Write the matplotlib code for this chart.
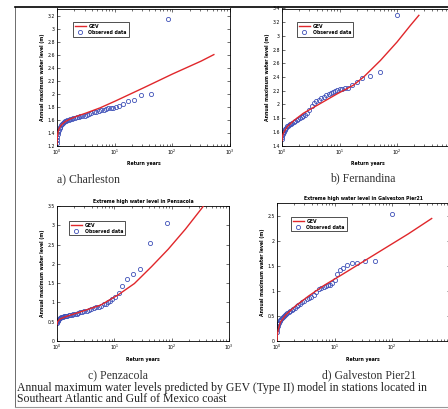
import matplotlib
matplotlib.use("Agg")
import matplotlib.pyplot as plt
from matplotlib.lines import Line2D

# ---------------- data ----------------
# a) Charleston
obs_T_a = [1.0, 1.01, 1.02, 1.04, 1.06, 1.08, 1.11, 1.14, 1.18, 1.22, 1.27, 1.32, 1.38, 1.45, 1.52,
           1.6, 1.7, 1.8, 1.92, 2.05, 2.2, 2.36, 2.55, 2.76, 3.0, 3.27, 3.6, 3.95, 4.35, 4.8, 5.3,
           5.9, 6.5, 7.1, 7.7, 8.5, 9.4, 10.6, 12.1, 14.2, 17.0, 21.3, 28.3, 42.5, 85.0]
obs_h_a = [1.24, 1.29, 1.33, 1.38, 1.41, 1.44, 1.47, 1.49, 1.51, 1.53, 1.55, 1.56, 1.57, 1.58, 1.59,
           1.60, 1.61, 1.615, 1.62, 1.63, 1.635, 1.64, 1.65, 1.655, 1.66, 1.67, 1.69, 1.70, 1.71, 1.72, 1.73,
           1.74, 1.75, 1.76, 1.77, 1.77, 1.78, 1.79, 1.81, 1.84, 1.88, 1.90, 1.98, 2.00, 3.15]
gev_T_a = [1.0, 1.005, 1.02, 1.05, 1.1, 1.2, 1.4, 1.7, 2.2, 3.2, 5.6, 10, 32, 100, 316, 525]
gev_h_a = [1.22, 1.28, 1.35, 1.42, 1.47, 1.52, 1.57, 1.61, 1.65, 1.70, 1.78, 1.88, 2.09, 2.30, 2.50, 2.60]

# b) Fernandina
obs_T_b = [1.0, 1.01, 1.02, 1.04, 1.06, 1.08, 1.11, 1.14, 1.18, 1.22, 1.27, 1.32, 1.38, 1.45, 1.52,
           1.6, 1.7, 1.8, 1.92, 2.05, 2.2, 2.36, 2.55, 2.76, 3.0, 3.27, 3.6, 3.95, 4.35, 4.8, 5.3,
           5.9, 6.5, 7.1, 7.7, 8.3, 9.1, 10.0, 11.1, 12.5, 14.3, 16.7, 20.0, 25.0, 33.3, 50.0, 100.0]
obs_h_b = [1.50, 1.53, 1.55, 1.57, 1.59, 1.60, 1.62, 1.64, 1.66, 1.68, 1.69, 1.70, 1.71, 1.72, 1.73,
           1.745, 1.76, 1.77, 1.78, 1.80, 1.81, 1.83, 1.85, 1.88, 1.92, 1.98, 2.02, 2.05, 2.07, 2.09, 2.11,
           2.13, 2.15, 2.17, 2.18, 2.20, 2.21, 2.22, 2.23, 2.24, 2.24, 2.29, 2.33, 2.39, 2.41, 2.48, 3.30]
gev_T_b = [1.0, 1.012, 1.047, 1.122, 1.259, 1.585, 2.344, 4.571, 8.913, 17.38, 26.3, 51.3, 100, 169.8, 239.9]
gev_h_b = [1.47, 1.52, 1.57, 1.62, 1.68, 1.76, 1.87, 2.01, 2.15, 2.28, 2.40, 2.64, 2.91, 3.15, 3.30]

# c) Pensacola
obs_T_c = [1.0, 1.01, 1.02, 1.04, 1.06, 1.08, 1.11, 1.14, 1.18, 1.22, 1.27, 1.32, 1.38, 1.45, 1.52,
           1.6, 1.7, 1.8, 1.92, 2.05, 2.2, 2.36, 2.55, 2.76, 3.0, 3.27, 3.6, 3.95, 4.35, 4.8, 5.3,
           5.9, 6.5, 7.1, 7.7, 8.3, 9.2, 10.4, 11.9, 13.8, 16.6, 20.8, 27.7, 41.5, 83.0]
obs_h_c = [0.46, 0.49, 0.51, 0.53, 0.55, 0.57, 0.59, 0.60, 0.61, 0.62, 0.63, 0.64, 0.645, 0.65, 0.66,
           0.665, 0.67, 0.68, 0.69, 0.70, 0.71, 0.72, 0.74, 0.75, 0.77, 0.78, 0.80, 0.83, 0.85, 0.87, 0.89,
           0.92, 0.95, 0.97, 1.00, 1.03, 1.08, 1.15, 1.25, 1.43, 1.60, 1.73, 1.86, 2.53, 3.07]
gev_T_c = [1.0, 1.023, 1.122, 1.479, 2.512, 5.754, 11.48, 22.39, 44.67, 87.1, 173.8, 338.8, 380.2]
gev_h_c = [0.43, 0.50, 0.57, 0.64, 0.75, 0.93, 1.19, 1.49, 1.93, 2.38, 2.90, 3.45, 3.56]

# d) Galveston Pier21
obs_T_d = [1.0, 1.01, 1.02, 1.04, 1.06, 1.08, 1.11, 1.14, 1.18, 1.22, 1.27, 1.32, 1.38, 1.45, 1.52,
           1.6, 1.7, 1.8, 1.92, 2.05, 2.2, 2.36, 2.55, 2.76, 3.0, 3.27, 3.6, 3.95, 4.35, 4.8, 5.3,
           5.9, 6.5, 7.1, 7.7, 8.3, 9.1, 10.0, 11.1, 12.5, 14.3, 16.7, 20.0, 25.0, 33.3, 50.0, 100.0]
obs_h_d = [0.19, 0.25, 0.28, 0.31, 0.34, 0.37, 0.40, 0.42, 0.44, 0.46, 0.48, 0.50, 0.52, 0.54, 0.56,
           0.58, 0.60, 0.62, 0.65, 0.67, 0.70, 0.72, 0.75, 0.78, 0.81, 0.84, 0.86, 0.89, 0.93, 0.98, 1.04,
           1.06, 1.09, 1.11, 1.12, 1.13, 1.16, 1.22, 1.34, 1.42, 1.47, 1.52, 1.57, 1.57, 1.61, 1.61, 2.54]
gev_T_d = [1.0, 1.012, 1.047, 1.148, 1.413, 2.042, 3.548, 6.761, 13.18, 50.12, 190.5, 489.8]
gev_h_d = [0.0, 0.12, 0.22, 0.38, 0.52, 0.69, 0.90, 1.12, 1.32, 1.73, 2.14, 2.45]

yticks_a = [1.2, 1.4, 1.6, 1.8, 2.0, 2.2, 2.4, 2.6, 2.8, 3.0, 3.2]
ylabels_a = ["1.2", "1.4", "1.6", "1.8", "2", "2.2", "2.4", "2.6", "2.8", "3", "3.2"]
yticks_b = [1.4, 1.6, 1.8, 2.0, 2.2, 2.4, 2.6, 2.8, 3.0, 3.2, 3.4]
ylabels_b = ["1.4", "1.6", "1.8", "2", "2.2", "2.4", "2.6", "2.8", "3", "3.2", "3.4"]
yticks_c = [0, 0.5, 1.0, 1.5, 2.0, 2.5, 3.0, 3.5]
ylabels_c = ["0", "0.5", "1", "1.5", "2", "2.5", "3", "3.5"]
yticks_d = [0, 0.5, 1.0, 1.5, 2.0, 2.5]
ylabels_d = ["0", "0.5", "1", "1.5", "2", "2.5"]
xticks_full = [1, 10, 100, 1000]
xticks_cut = [1, 10, 100]

captions = ["a) Charleston", "b) Fernandina", "c) Penzacola", "d) Galveston Pier21"]
titles = ["", "", "Extreme high water level in Pensacola", "Extreme high water level in Galveston Pier21"]
caption_lines = ["Annual maximum water levels predicted by GEV (Type II) model in stations located in",
                 "Southeart Atlantic and Gulf of Mexico coast"]

# ---------------- figure ----------------
W, H = 448, 409
fig = plt.figure(figsize=(W / 100, H / 100), dpi=100)
fig.patch.set_facecolor("white")


def box(x0, y0, x1, y1):
    return [x0 / W, 1 - y1 / H, (x1 - x0) / W, (y1 - y0) / H]


RED = "#e0272b"
BLUE = "#3f51b8"
FS = 3.3

panels = [
    (box(57, 8.5, 230, 145.5), (1.2, 3.31), obs_T_a, obs_h_a, gev_T_a, gev_h_a, yticks_a, ylabels_a, (0.092, 0.90), xticks_full),
    (box(282, 8.5, 454.5, 145.5), (1.4, 3.4), obs_T_b, obs_h_b, gev_T_b, gev_h_b, yticks_b, ylabels_b, (0.087, 0.90), xticks_cut),
    (box(57, 206, 229, 341), (0.0, 3.5), obs_T_c, obs_h_c, gev_T_c, gev_h_c, yticks_c, ylabels_c, (0.07, 0.89), xticks_full),
    (box(277, 203, 449.5, 341), (0.0, 2.76), obs_T_d, obs_h_d, gev_T_d, gev_h_d, yticks_d, ylabels_d, (0.08, 0.90), xticks_cut),
]

for i, (rect, ylim, oT, oh, gT, gh, yt, yl, lpos, xt) in enumerate(panels):
    ax = fig.add_axes(rect)
    ax.set_xscale("log")
    ax.set_xlim(1, 1000)
    ax.set_ylim(*ylim)
    l1, = ax.plot(gT, gh, color=RED, lw=1.0, zorder=3)
    l2, = ax.plot(oT, oh, linestyle="none", marker="o", markersize=3.0, markerfacecolor="none",
                  markeredgecolor=BLUE, markeredgewidth=0.6, zorder=2)
    ax.set_yticks(yt)
    ax.set_yticklabels(yl)
    ax.set_xticks(xt)
    ax.tick_params(which="both", direction="in", top=True, right=True, labelsize=FS, pad=1.5,
                   width=0.4)
    ax.tick_params(which="major", length=2.2)
    ax.tick_params(which="minor", length=1.2)
    for s in ax.spines.values():
        s.set_linewidth(0.6)
    ax.set_xlabel("Return years", fontsize=FS, fontweight="bold", labelpad=3)
    ax.set_ylabel("Annual maximum water level (m)", fontsize=FS, fontweight="bold", labelpad=2)
    if titles[i]:
        ax.set_title(titles[i], fontsize=FS, fontweight="bold", pad=2)
    leg = ax.legend([l1, l2], ["GEV", "Observed data"], loc="upper left", bbox_to_anchor=lpos,
                    fontsize=FS, frameon=True, fancybox=False, edgecolor="black",
                    handlelength=2.4, borderpad=0.4, labelspacing=0.2, handletextpad=0.6,
                    borderaxespad=0)
    leg.get_frame().set_linewidth(0.6)
    for t in leg.get_texts():
        t.set_fontweight("bold")

# sub captions
serif = ["Liberation Serif", "DejaVu Serif"]
CFS = 8.5
fig.text(57 / W, 1 - 179 / H, captions[0], fontsize=CFS, family=serif, va="center", ha="left", color="#333333")
fig.text(330 / W, 1 - 178 / H, captions[1], fontsize=CFS, family=serif, va="center", ha="left", color="#333333")
fig.text(88 / W, 1 - 375 / H, captions[2], fontsize=CFS, family=serif, va="center", ha="left", color="#333333")
fig.text(322 / W, 1 - 375 / H, captions[3], fontsize=CFS, family=serif, va="center", ha="left", color="#333333")
fig.text(17 / W, 1 - 388 / H, caption_lines[0], fontsize=CFS, family=serif, va="center", ha="left", color="#222222")
fig.text(17 / W, 1 - 399.5 / H, caption_lines[1], fontsize=CFS, family=serif, va="center", ha="left", color="#222222")

# page frame
fig.add_artist(Line2D([15 / W, 15 / W], [1 - 7 / H, 1 - 407 / H], color="#555555", lw=0.6))
fig.add_artist(Line2D([15 / W, 1.0], [1 - 7 / H, 1 - 7 / H], color="black", lw=1.2))
fig.add_artist(Line2D([15 / W, 1.0], [1 - 407 / H, 1 - 407 / H], color="#999999", lw=0.8))

fig.savefig("out.png", dpi=100)
